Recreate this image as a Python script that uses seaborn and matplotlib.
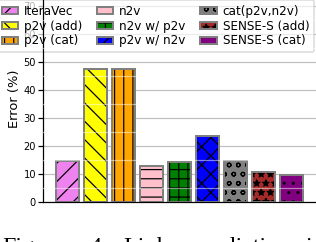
import matplotlib
matplotlib.use("Agg")
import matplotlib.pyplot as plt
from matplotlib.patches import Rectangle, Patch
from matplotlib.ticker import MultipleLocator
import seaborn as sns
import pandas as pd

# values
methods = ["IteraVec", "p2v (add)", "p2v (cat)", "n2v", "n2v w/ p2v",
           "p2v w/ n2v", "cat(p2v,n2v)", "SENSE-S (add)", "SENSE-S (cat)"]
errors = [14.9, 47.5, 47.7, 12.9, 14.3, 23.6, 14.8, 10.8, 9.9]
colors = ["violet", "yellow", "orange", "pink", "green",
          "blue", "gray", "brown", "purple"]
hatches = ["//", "\\\\", "||", "--", "++", "xx", "oo", "**", ".."]
yticks = [0, 10, 20, 30, 40, 50, 60, 70]
caption_words = ["Figure", "4:", "Link", "prediction", "i"]

plt.rcParams["hatch.linewidth"] = 0.8

W, H, DPI = 316, 242, 110
fig = plt.figure(figsize=(W / DPI, H / DPI), dpi=DPI)
# axes placed in pixels (left, bottom, width, height)
ax = fig.add_axes([43 / W, 39.7 / H, 276 / W, 207 / H])

df = pd.DataFrame({"method": methods, "error": errors})
sns.barplot(data=df, x="method", y="error", hue="method", palette=colors,
            saturation=1, width=0.8, edgecolor="black", linewidth=0.6,
            legend=False, ax=ax)

# black hatches, gray outline drawn on top
bars = list(ax.patches)
for patch, h in zip(bars, hatches):
    patch.set_hatch(h)
    ax.add_patch(Rectangle(patch.get_xy(), patch.get_width(), patch.get_height(),
                           fill=False, edgecolor="gray", linewidth=1.3,
                           zorder=patch.get_zorder() + 0.1))

ax.set_xlim(-0.875, -0.875 + 276 / 28)
ax.set_ylim(0, 207 / 2.8)
ax.set_xticks([])
ax.set_xlabel("")
ax.set_yticks(yticks)
ax.tick_params(axis="y", labelsize=6.5, length=3, width=0.8, pad=1.5)
ax.set_ylabel("Error (%)", fontsize=8.5, labelpad=1.5)
ax.set_axisbelow(True)
ax.grid(axis="y", color="#b0b0b0", alpha=0.8, linewidth=0.8)
ax.spines["left"].set_zorder(6)

# faint white lines between the major grid, seen only over the bars
ax2 = ax.twinx()
ax2.set_ylim(ax.get_ylim())
ax2.yaxis.set_major_locator(MultipleLocator(10, offset=5))
ax2.grid(axis="y", color="white", alpha=0.5, linewidth=0.8)
ax2.tick_params(right=False, labelright=False)
for s in ax2.spines.values():
    s.set_visible(False)

handles = [(Patch(facecolor=c, edgecolor="black", hatch=h, linewidth=0),
            Patch(fill=False, edgecolor="gray", linewidth=1.3))
           for c, h in zip(colors, hatches)]
ax.legend(handles, methods, ncol=3, loc="upper left",
          bbox_to_anchor=(-3.1 / W, 1.0), bbox_transform=fig.transFigure,
          borderaxespad=0, fontsize=7.85, handlelength=1.375, handleheight=0.5,
          handletextpad=0.5, columnspacing=1.2, labelspacing=0.15,
          framealpha=0.7)

# caption of the paper figure, cut by the crop
caption_x = [2, 89, 123, 194, 306]
for word, x in zip(caption_words, caption_x):
    fig.text(x / W, (H - 253.0) / H, word, fontsize=15.7,
             family="Liberation Serif", va="baseline", ha="left")

fig.savefig("out.png", dpi=DPI)
